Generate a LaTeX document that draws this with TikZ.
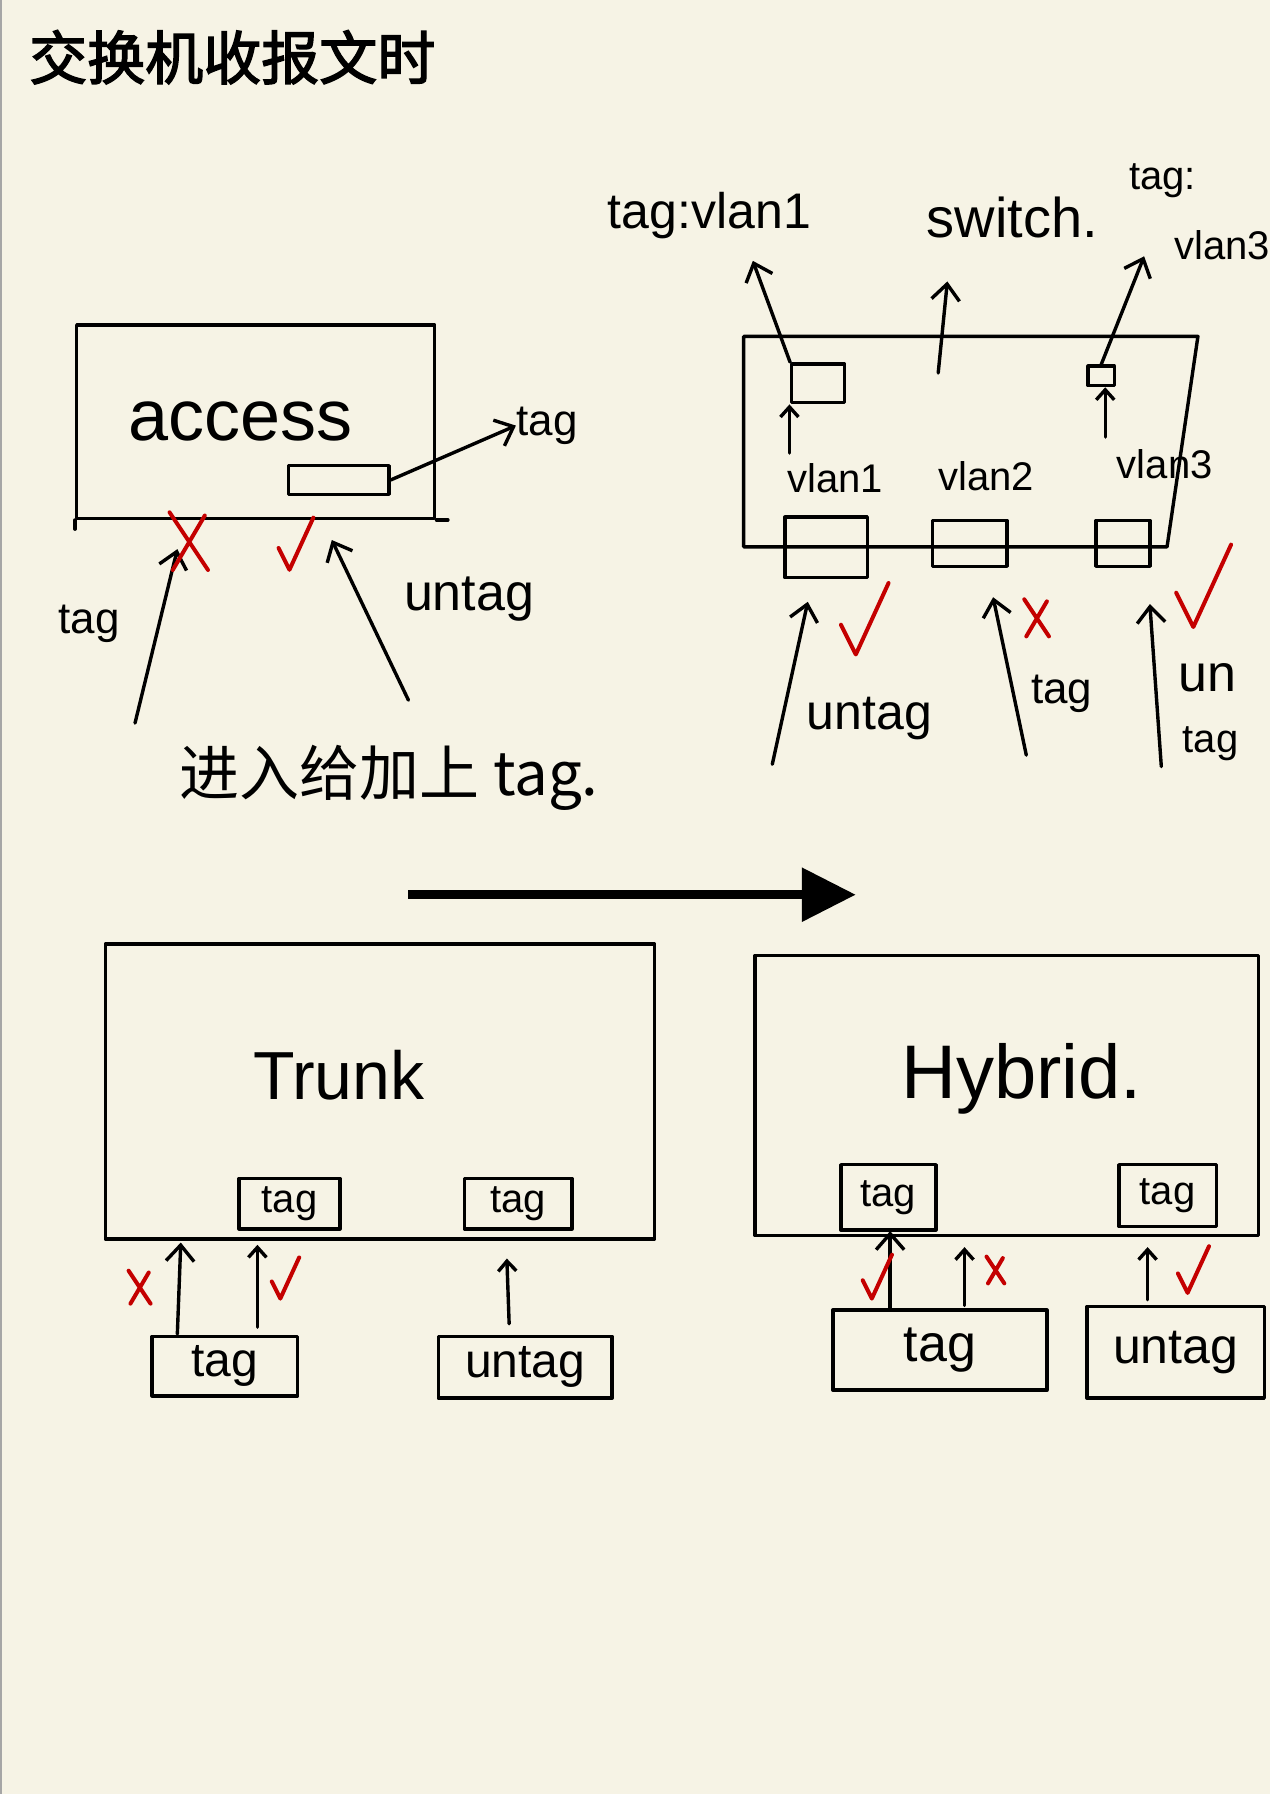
\documentclass[tikz,border=0pt]{standalone}
\usepackage{fontspec}
\setmainfont{Liberation Sans}
\newfontfamily\cjk{Noto Sans CJK SC}
\newfontfamily\cjkb[FakeBold=2.5]{Noto Sans CJK SC}
\usetikzlibrary{arrows.meta,fit}
\definecolor{paper}{HTML}{F6F3E5}
\definecolor{mark}{HTML}{C40000}
\begin{document}
\begin{tikzpicture}[x=0.572pt,y=-0.572pt,
  ink/.style={line width=1.7pt, line cap=round, line join=round},
  box/.style={draw, ink, inner sep=0pt},
  arr/.style={ink, -{Straight Barb[length=8pt,width=14pt]}},
  sarr/.style={ink, -{Straight Barb[length=5pt,width=9pt]}},
  lbl/.style={inner sep=0pt, font=\fontsize{#1}{#1}\selectfont},
  redline/.style={draw=mark, line width=2pt, line cap=round, line join=round},
  okmark/.pic={\draw[redline] (-10,-20) -- (0,0) -- (22,-48);},
  nomark/.pic={\draw[redline] (-12,-18) -- (12,18) (10,-16) -- (-10,18);}
]
\fill[paper] (0,0) rectangle (1110,1568);
\useasboundingbox (0,0) rectangle (1110,1568);
\draw[gray!70, line width=1pt] (0.8,0) -- (0.8,1568);

% title
\node[inner sep=0pt, font={\cjkb\fontsize{29}{29}\selectfont}] (title) at (203,50) {交换机收报文时};

% ---------- access ----------
\node[box, fit={(67,284)(380,453)}] (acc) {};
\draw[ink] (acc.south west) -- ++(0,8);
\draw[ink] (acc.south east) -- ++(10,0);
\node[lbl=36] (acctxt) at (210,368) {access};
\node[box, fit={(252,407)(340,432)}] (accport) {};
\node[lbl=22] (accout) at (478,372) {tag};
\draw[arr] (accport.east) -- (accout.west);
\coordinate (a1s) at (118,632);
\coordinate (a1e) at (155,480);
\coordinate (a2s) at (357,612);
\coordinate (a2e) at (290,472);
\draw[arr] (a1s) -- (a1e);
\draw[arr] (a2s) -- (a2e);
\node[lbl=22] (acctag) at (78,545) {tag};
\node[lbl=26] (accuntag) at (410,524) {untag};
\pic at (165,473) [scale=1.4] {nomark};
\pic at (253,498) [scale=0.95] {okmark};
\node[inner sep=0pt, font={\cjk\fontsize{30}{30}\selectfont}] (accnote) at (340,680) {进入给加上 tag.};

% ---------- switch ----------
\coordinate (swA) at (650,294);
\coordinate (swB) at (1047,294);
\coordinate (swC) at (1020,478);
\coordinate (swD) at (650,478);
\draw[ink] (swA) -- (swB) -- (swC) -- (swD) -- cycle;
\node[lbl=25] (swl1) at (620,188) {tag:vlan1};
\node[lbl=28] (swname) at (885,190) {switch.};
\node[lbl=20] (swl3a) at (1016,158) {tag:};
\node[lbl=20] (swl3b) at (1068,214) {vlan3};
\node[box, fit={(692,318)(738,352)}] (sp1) {};
\node[box, fit={(951,320)(974,337)}] (sp3) {};
\coordinate (sw1tip) at (658,228);
\coordinate (swmid1) at (820,326);
\coordinate (swmid2) at (828,246);
\coordinate (sw3tip) at (1000,224);
\draw[arr] (sp1.north west) -- (sw1tip);
\draw[arr] (swmid1) -- (swmid2);
\draw[arr] (sp3.north) -- (sw3tip);
\node[lbl=20] (v1) at (730,418) {vlan1};
\node[lbl=20] (v2) at (862,416) {vlan2};
\node[lbl=20] (v3) at (1018,406) {vlan3};
\coordinate (v1up) at (690,396);
\coordinate (v3up) at (966,382);
\draw[sarr] (v1up) -- (sp1.south west -| v1up);
\draw[sarr] (v3up) -- (sp3.south west -| v3up);
\node[box, fit={(686,452)(758,505)}] (bp1) {};
\node[box, fit={(815,455)(880,495)}] (bp2) {};
\node[box, fit={(958,455)(1005,495)}] (bp3) {};
\coordinate (s1s) at (675,668);
\coordinate (s1e) at (706,526);
\coordinate (s2s) at (897,660);
\coordinate (s2e) at (868,522);
\coordinate (s3s) at (1015,670);
\coordinate (s3e) at (1005,528);
\draw[arr] (s1s) -- (s1e);
\draw[arr] (s2s) -- (s2e);
\draw[arr] (s3s) -- (s3e);
\node[lbl=25] (su1) at (760,628) {untag};
\node[lbl=22] (su2) at (928,606) {tag};
\node[lbl=26] (su3a) at (1055,592) {un};
\node[lbl=20] (su3b) at (1058,650) {tag};
\pic at (748,572) [scale=1.3] {okmark};
\pic at (906,540) [scale=0.9] {nomark};
\pic at (1043,548) [scale=1.5] {okmark};

% ---------- big arrow ----------
\coordinate (bigL) at (357,782);
\coordinate (bigR) at (748,782);
\draw[line width=4.6pt, -{Triangle[length=27pt,width=26pt]}] (bigL) -- (bigR);

% ---------- Trunk ----------
\node[box, fit={(92,825)(572,1083)}] (trunk) {};
\node[lbl=34] (trunktxt) at (296,940) {Trunk};
\node[box, fit={(209,1030)(297,1074)}] (tp1) {};
\node[lbl=20] (tp1t) at (tp1.center) {tag};
\node[box, fit={(406,1030)(500,1074)}] (tp2) {};
\node[lbl=20] (tp2t) at (tp2.center) {tag};
\node[box, fit={(133,1168)(260,1220)}] (tb1) {};
\node[lbl=24] (tb1t) at (tb1.center) {tag};
\node[box, fit={(383,1168)(535,1222)}] (tb2) {};
\node[lbl=24] (tb2t) at (tb2.center) {untag};
\coordinate (t1s) at (155,1166);
\coordinate (t1e) at (158,1086);
\coordinate (t2s) at (225,1160);
\coordinate (t2e) at (225,1088);
\coordinate (t3s) at (445,1157);
\coordinate (t3e) at (443,1100);
\draw[arr] (t1s) -- (t1e);
\draw[sarr] (t2s) -- (t2e);
\draw[sarr] (t3s) -- (t3e);
\pic at (122,1125) [scale=0.8] {nomark};
\pic at (245,1135) [scale=0.75] {okmark};

% ---------- Hybrid ----------
\node[box, fit={(660,835)(1100,1080)}] (hyb) {};
\node[lbl=38] (hybtxt) at (893,943) {Hybrid.};
\node[box, fit={(735,1018)(818,1075)}] (hp1) {};
\node[lbl=20] (hp1t) at (hp1.center) {tag};
\node[box, fit={(978,1018)(1063,1072)}] (hp2) {};
\node[lbl=20] (hp2t) at (hp2.center) {tag};
\node[box, fit={(728,1145)(915,1215)}] (hb1) {};
\node[lbl=26] (hb1t) at (hb1.center) {tag};
\node[box, fit={(950,1142)(1105,1222)}] (hb2) {};
\node[lbl=25] (hb2t) at (hb2.center) {untag};
\coordinate (h1s) at (778,1143);
\coordinate (h1e) at (778,1076);
\coordinate (h2s) at (843,1141);
\coordinate (h2e) at (843,1090);
\coordinate (h3s) at (1003,1136);
\coordinate (h3e) at (1003,1090);
\draw[arr] (h1s) -- (h1e);
\draw[sarr] (h2s) -- (h2e);
\draw[sarr] (h3s) -- (h3e);
\pic at (762,1135) [scale=0.8] {okmark};
\pic at (870,1110) [scale=0.65] {nomark};
\pic at (1038,1130) [scale=0.85] {okmark};
\end{tikzpicture}
\end{document}
